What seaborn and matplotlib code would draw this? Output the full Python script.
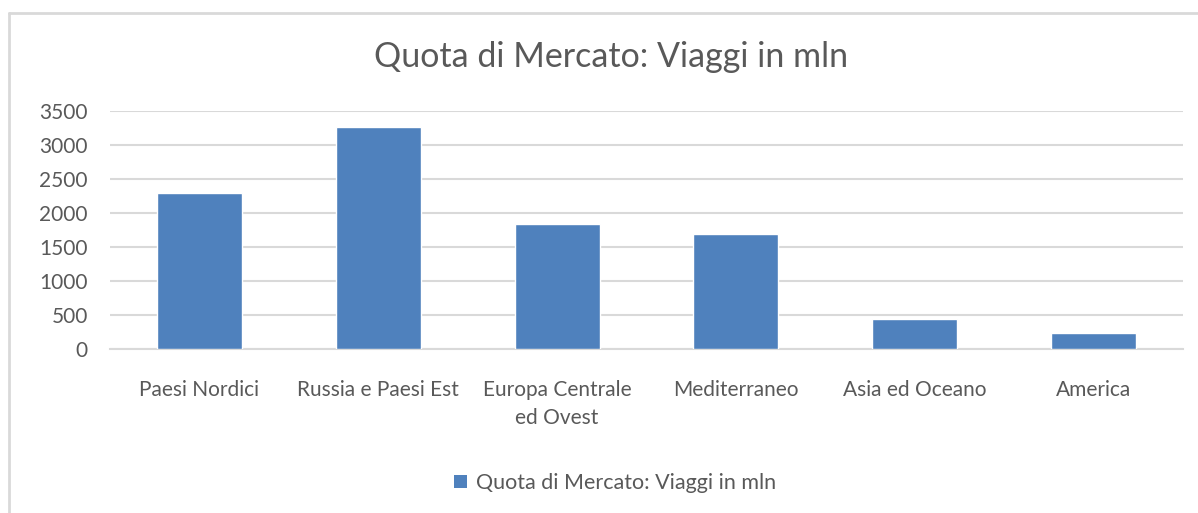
import numpy as np
import pandas as pd
import matplotlib.pyplot as plt
import seaborn as sns
from matplotlib.lines import Line2D
from matplotlib.patches import Patch

categories = ['Paesi Nordici', 'Russia e Paesi Est', 'Europa Centrale\ned Ovest',
              'Mediterraneo', 'Asia ed Oceano', 'America']
viaggi = [2290, 3260, 1840, 1690, 440, 230]
y_ticks = [0, 500, 1000, 1500, 2000, 2500, 3000, 3500]
serie = 'Quota di Mercato: Viaggi in mln'

df = pd.DataFrame({'Area': categories, 'Viaggi': viaggi})

sns.set_style('white')
plt.rcParams['font.family'] = ['Lato', 'DejaVu Sans']

grey = '#595959'
grid = '#d9d9d9'
blue = '#4f81bd'

fig = plt.figure(figsize=(11.98, 5.13), dpi=100)
ax = fig.add_axes([110 / 1198, 1 - 349 / 513, (1183 - 110) / 1198, (349 - 111) / 513])

sns.barplot(data=df, x='Area', y='Viaggi', color=blue, width=0.476,
            saturation=1, ax=ax, zorder=3)

ax.set_xlim(-0.5, 5.5)
ax.set_ylim(0, 3500)
ax.set_yticks(y_ticks)
ax.yaxis.grid(True, color=grid, linewidth=1.5, zorder=0)
ax.set_axisbelow(True)
ax.set_xlabel('')
ax.set_ylabel('')

for s in ['top', 'right', 'left']:
    ax.spines[s].set_visible(False)
ax.spines['bottom'].set_color(grid)
ax.spines['bottom'].set_linewidth(1.5)

ax.tick_params(axis='y', length=0, pad=16, labelsize=15, labelcolor=grey)
ax.tick_params(axis='x', which='major', length=0, pad=22, labelsize=15, labelcolor=grey)
for lbl in ax.get_xticklabels():
    lbl.set_linespacing(1.55)
ax.set_xticks(np.arange(-0.5, 6, 1), minor=True)
ax.tick_params(axis='x', which='minor', length=5, width=1.5, color=grid, direction='out')

fig.text(611 / 1198, 1 - 57 / 513, serie, fontsize=24.5, color=grey,
         ha='center', va='center')

handle = Patch(facecolor=blue, edgecolor='none')
fig.legend([handle], [serie], loc='center', bbox_to_anchor=(615 / 1198, 1 - 483 / 513),
           frameon=False, fontsize=15.5, labelcolor=grey, handlelength=0.6,
           handleheight=0.6, handletextpad=0.4)

# bordo del grafico
fig.add_artist(Line2D([9 / 1198, 1], [1 - 13 / 513] * 2, color=grid, linewidth=2,
                      transform=fig.transFigure))
fig.add_artist(Line2D([9 / 1198] * 2, [0, 1 - 13 / 513], color=grid, linewidth=2,
                      transform=fig.transFigure))

fig.savefig('out.png', dpi=100)
